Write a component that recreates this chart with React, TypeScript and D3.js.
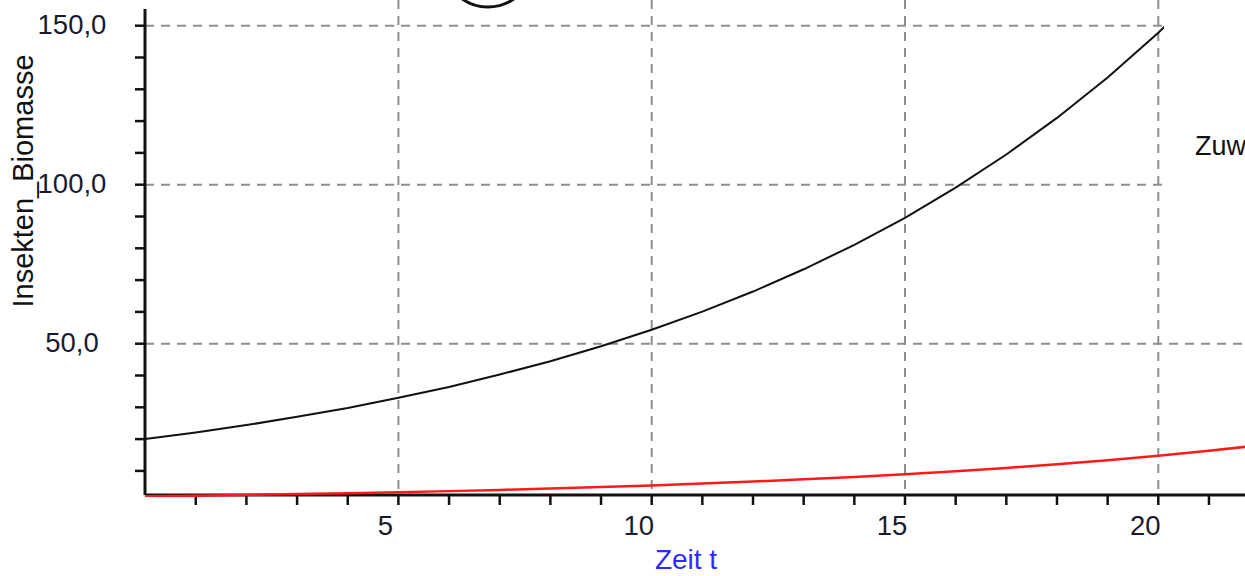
import React from "react";
import * as d3 from "d3";

// Simulation output: time steps and the two tracked quantities
const timeSteps = [0, 1, 2, 3, 4, 5, 6, 7, 8, 9, 10, 11, 12, 13, 14, 15, 16, 17, 18, 19, 20, 21, 22];
const biomasse = [20.0, 22.1, 24.4, 27.0, 29.8, 33.0, 36.4, 40.3, 44.5, 49.2, 54.4, 60.1, 66.4, 73.4, 81.1, 89.6, 99.1, 109.5, 121.0, 133.7, 147.8, 163.3, 180.5];
const zuwachs = [2.0, 2.21, 2.44, 2.7, 2.98, 3.3, 3.64, 4.03, 4.45, 4.92, 5.44, 6.01, 6.64, 7.34, 8.11, 8.96, 9.91, 10.95, 12.1, 13.37, 14.78, 16.33, 18.05];

const xMajorTicks = [5, 10, 15, 20];
const xMinorTicks = [1, 2, 3, 4, 5, 6, 7, 8, 9, 10, 11, 12, 13, 14, 15, 16, 17, 18, 19, 20, 21];
const yMajorTicks = [50, 100, 150];
const yMinorTicks = [10, 20, 30, 40, 50, 60, 70, 80, 90, 100, 110, 120, 130, 140, 150];
const yTickLabels = ["50,0", "100,0", "150,0"];

const W = 1245;
const H = 576;
const axisLeft = 145;
const axisBottom = 495;
const axisTop = 9;

const x = d3.scaleLinear().domain([0, 20]).range([145.1, 1158.3]);
const y = d3.scaleLinear().domain([50, 150]).range([343.7, 25.7]);

const font = "'Liberation Sans', Arial, sans-serif";

export default function App() {
  const line = d3
    .line<number>()
    .x((_, i) => x(timeSteps[i]))
    .y((d) => y(d));

  const gridStyle = {
    stroke: "#8e8e8e",
    strokeWidth: 2,
    strokeDasharray: "9 7",
  };

  return (
    <svg
      width={W}
      height={H}
      viewBox={`0 0 ${W} ${H}`}
      style={{ position: "absolute", left: 0, top: 0, background: "#fff" }}
    >
      <defs>
        <clipPath id="plot">
          <rect x={axisLeft} y={axisTop} width={W - axisLeft} height={axisBottom - axisTop + 2} />
        </clipPath>
      </defs>

      {/* dashed grid */}
      {yMajorTicks.map((v) => (
        <line key={"gy" + v} x1={axisLeft} x2={W} y1={y(v)} y2={y(v)} {...gridStyle} />
      ))}
      {xMajorTicks.map((v) => (
        <line key={"gx" + v} x1={x(v)} x2={x(v)} y1={0} y2={axisBottom} {...gridStyle} />
      ))}

      {/* series */}
      <g clipPath="url(#plot)">
        <path d={line(biomasse) ?? ""} fill="none" stroke="#111" strokeWidth={2} />
      </g>

      {/* axes */}
      <line x1={axisLeft} x2={axisLeft} y1={axisTop} y2={axisBottom} stroke="#111" strokeWidth={3} />
      <line x1={axisLeft} x2={W} y1={axisBottom} y2={axisBottom} stroke="#111" strokeWidth={3} />
      {yMinorTicks.map((v) => (
        <line key={"ty" + v} x1={axisLeft - 10} x2={axisLeft} y1={y(v)} y2={y(v)} stroke="#111" strokeWidth={2.5} />
      ))}
      {xMinorTicks.map((v) => (
        <line key={"tx" + v} x1={x(v)} x2={x(v)} y1={axisBottom} y2={axisBottom + 10} stroke="#111" strokeWidth={2.5} />
      ))}

      <g clipPath="url(#plot)">
        <path d={line(zuwachs) ?? ""} fill="none" stroke="#ff1a1a" strokeWidth={2.5} />
      </g>

      {/* legend panel on the right */}
      <rect x={1164} y={0} width={W - 1164} height={270} fill="#fff" />
      <text x={1195} y={155} fontFamily={font} fontSize={27} fill="#111">
        Zuwachs
      </text>

      {/* tick labels */}
      {yMajorTicks.map((v, i) => (
        <text
          key={"ly" + v}
          x={72}
          y={y(v) + 8}
          textAnchor="middle"
          fontFamily={font}
          fontSize={27.5}
          fill="#1a1a2e"
        >
          {yTickLabels[i]}
        </text>
      ))}
      {xMajorTicks.map((v) => (
        <text
          key={"lx" + v}
          x={x(v) - 13}
          y={535}
          textAnchor="middle"
          fontFamily={font}
          fontSize={27.5}
          fill="#1a1a2e"
        >
          {v}
        </text>
      ))}

      {/* axis titles */}
      <text
        transform="translate(33,181) rotate(-90)"
        textAnchor="middle"
        fontFamily={font}
        fontSize={29}
        fill="#111"
      >
        Insekten_Biomasse
      </text>
      <text x={686} y={569} textAnchor="middle" fontFamily={font} fontSize={28} fill="#2b2bff">
        Zeit t
      </text>

      {/* marker circle at the top edge */}
      <circle cx={488} cy={-38} r={45} fill="none" stroke="#111" strokeWidth={3} />
    </svg>
  );
}
